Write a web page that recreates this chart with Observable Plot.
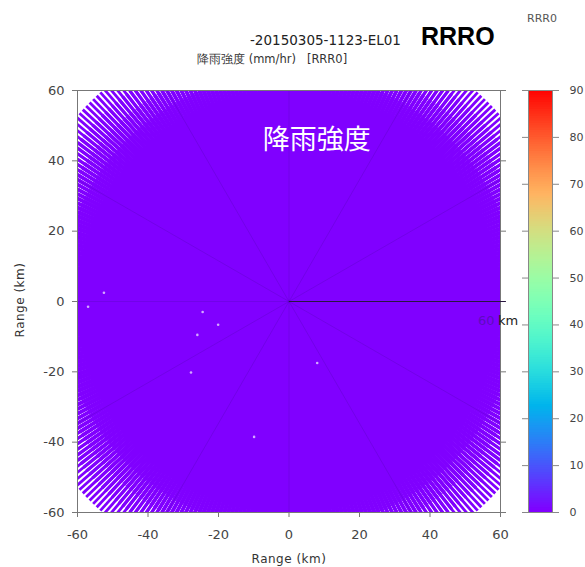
<!DOCTYPE html>
<html><head><meta charset="utf-8">
<script src="https://cdn.jsdelivr.net/npm/d3@7"></script>
<script src="https://cdn.jsdelivr.net/npm/@observablehq/plot@0.6"></script>
<style>
body{margin:0;background:#fff;}
#wrap{position:relative;width:585px;height:567px;overflow:hidden;background:#fff;}
#wrap svg{position:absolute;top:0;}
</style></head><body>
<div id="wrap"></div>
<script>
// ---- data ----
const azimuthsDeg = d3.range(0, 360, 1);            // radar beam azimuths (1° resolution)
const beamReachKm = [80, 75, 70, 65, 60, 55];        // outer range of each drawing layer
const fieldRain = 0;                                 // mm/hr over the whole scan
const echoes = [                                     // faint isolated returns (km)
  {x:-27.8, y:-20.2}, {x:-9.9, y:-38.5}, {x:-20.1, y:-6.6},
  {x:-24.5, y:-3.0}, {x:-26.0, y:-9.5}, {x:8.0, y:-17.5},
  {x:-57.0, y:-1.5}, {x:-52.5, y:2.5}
];
const spokeAzimuths = [30,60,90,120,150,180,210,240,270,300,330];
const rangeMarkerKm = 61.5;
const xTicks = [-60,-40,-20,0,20,40,60];
const yTicks = [-60,-40,-20,0,20,40,60];
const colorTicks = [0,10,20,30,40,50,60,70,80,90];
const colorDomain = [0, 90];
const titleText = "-20150305-1123-EL01";
const bigTitle = "RRRO";
const cornerTag = "RRR0";
const subtitleText = "降雨強度 (mm/hr)   [RRR0]";
const fieldLabel = "降雨強度";
const axisLabel = "Range (km)";

// ---- helpers ----
function mplRainbow(t){
  const r = Math.min(1, Math.abs(2*t - 0.5));
  const g = Math.max(0, Math.sin(Math.PI*t));
  const b = Math.max(0, Math.cos(Math.PI*t/2));
  return `rgb(${Math.round(r*255)},${Math.round(g*255)},${Math.round(b*255)})`;
}
const rad = a => a*Math.PI/180;
const beams = [];
for (const reach of beamReachKm)
  for (const az of azimuthsDeg)
    beams.push({az, reach, rain: fieldRain});
const beamWidth = d => 2.8 + (80 - d.reach)*0.08;
const colorOpts = {type:"linear", domain: colorDomain, interpolate: mplRainbow};
const fmt = d => String(d);

// ---- main plot ----
const main = Plot.plot({
  width: 520, height: 567,
  marginLeft: 77, marginRight: 20, marginTop: 90, marginBottom: 55,
  x: {domain: [-60, 60]}, y: {domain: [-60, 60]},
  color: colorOpts,
  style: {background: "transparent", fontFamily: "DejaVu Sans", fontSize: "13px", color: "#444"},
  marks: [
    Plot.link(beams, {
      x1: 0, y1: 0,
      x2: d => d.reach*Math.cos(rad(d.az)), y2: d => d.reach*Math.sin(rad(d.az)),
      stroke: "rain", strokeWidth: beamWidth, clip: "frame"
    }),
    Plot.link(spokeAzimuths, {
      x1: 0, y1: 0,
      x2: a => 80*Math.cos(rad(a)), y2: a => 80*Math.sin(rad(a)),
      stroke: "#3a0a8a", strokeOpacity: 0.25, strokeWidth: 0.8, clip: "frame"
    }),
    Plot.dot(echoes, {x: "x", y: "y", r: 1.3, fill: "#f0e0ff", fillOpacity: 0.75, stroke: null, clip: "frame"}),
    Plot.frame({stroke: "#777"}),
    Plot.axisX({ticks: xTicks, tickFormat: fmt, tickSize: 5, tickPadding: 12, label: null, stroke: "#777"}),
    Plot.axisY({ticks: yTicks, tickFormat: fmt, tickSize: 5, tickPadding: 8, label: null, stroke: "#777"}),
    Plot.axisY({anchor: "right", ticks: yTicks, tickFormat: () => "", tickSize: 5, label: null, stroke: "#777"}),
    Plot.link([rangeMarkerKm], {x1: 0, y1: 0, x2: d => d, y2: 0, stroke: "#2a1640", strokeWidth: 1.2}),
    Plot.text([fieldLabel], {x: 7.9, y: 45.9, text: d => d, fill: "white", fontSize: 27, fontFamily: "Noto Sans CJK JP"}),
    Plot.text(["60"], {x: 53.6, y: -5.4, text: d => d, textAnchor: "start", fill: "#3a1a7a", fillOpacity: 0.5, fontSize: 13}),
    Plot.text(["km"], {x: 59.3, y: -5.4, text: d => d, textAnchor: "start", fill: "#222", fontSize: 13})
  ]
});
main.style.left = "0px";

// ---- colorbar ----
const barSteps = d3.range(0, 90, 0.5).map(v => ({v0: v, v1: Math.min(90, v + 0.75)}));
const bar = Plot.plot({
  width: 85, height: 567,
  marginLeft: 28, marginRight: 33, marginTop: 90, marginBottom: 55,
  x: {domain: [0, 1], axis: null}, y: {domain: colorDomain},
  color: colorOpts,
  style: {background: "transparent", fontFamily: "DejaVu Sans", fontSize: "11px", color: "#444"},
  marks: [
    Plot.rect(barSteps, {x1: 0, x2: 1, y1: "v0", y2: "v1", fill: "v0"}),
    Plot.frame({stroke: "#888"}),
    Plot.axisY({anchor: "right", ticks: colorTicks, tickFormat: fmt, tickSize: 6, tickPadding: 11, label: null, stroke: "#888"}),
    Plot.axisY({anchor: "left", ticks: colorTicks, tickFormat: () => "", tickSize: 6, label: null, stroke: "#888"})
  ]
});
bar.style.left = "500px";

const wrap = document.getElementById("wrap");
wrap.appendChild(bar);
wrap.appendChild(main);

// ---- titles and axis labels ----
const ns = "http://www.w3.org/2000/svg";
const ov = document.createElementNS(ns, "svg");
ov.setAttribute("width", 585); ov.setAttribute("height", 567);
ov.style.left = "0px"; ov.style.pointerEvents = "none";
function txt(s, x, y, attrs){
  const t = document.createElementNS(ns, "text");
  t.textContent = s; t.setAttribute("x", x); t.setAttribute("y", y);
  t.style.whiteSpace = "pre";
  for (const k in attrs) t.setAttribute(k, attrs[k]);
  ov.appendChild(t);
}
txt(titleText, 250, 45, {"font-family": "DejaVu Sans", "font-size": 13.5, fill: "#222"});
txt(bigTitle, 421, 45, {"font-family": "Liberation Sans", "font-size": 25, "font-weight": "bold", fill: "#000"});
txt(cornerTag, 527, 22, {"font-family": "DejaVu Sans", "font-size": 11, fill: "#555"});
txt(subtitleText, 197, 63, {"font-family": "DejaVu Sans", "font-size": 11.5, fill: "#333"});
txt(axisLabel, 289, 563, {"font-family": "DejaVu Sans", "font-size": 12, fill: "#333", "text-anchor": "middle", "letter-spacing": "0.5"});
txt(axisLabel, 0, 0, {"font-family": "DejaVu Sans", "font-size": 12, fill: "#333", "text-anchor": "middle", "letter-spacing": "0.5", transform: "translate(24,300) rotate(-90)"});
wrap.appendChild(ov);
</script>
</body></html>
